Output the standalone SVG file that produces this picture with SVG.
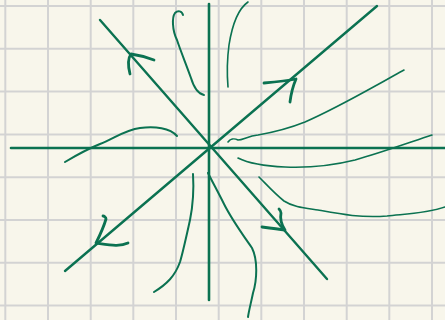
<svg xmlns="http://www.w3.org/2000/svg" width="445" height="320" viewBox="0 0 445 320">
<style>
.grid{stroke:#d3d3d3;stroke-width:2;fill:none}
.ink{stroke:#0b7251;fill:none;stroke-linecap:round;stroke-linejoin:round}
.axis{stroke-width:2.6}
.eig{stroke-width:2.4}
.traj{stroke-width:2}
.thin{stroke-width:1.6}
.arr{stroke-width:2.8}
</style>
<rect width="445" height="320" fill="#f8f6eb"/>
<g id="grid" class="grid">
<path d="M5.3,0V320M48,0V320M90.7,0V320M133.3,0V320M176,0V320M218.7,0V320M261.3,0V320M304,0V320M346.7,0V320M389.3,0V320M432,0V320"/>
<path d="M0,6H445M0,48.8H445M0,91.6H445M0,134.4H445M0,177.2H445M0,220H445M0,262.8H445M0,305.6H445"/>
</g>
<g id="axes" class="ink axis">
<path d="M11,148H445"/>
<path d="M209,4V300"/>
</g>
<g id="eigenlines" class="ink eig">
<path d="M100,20L327,279"/>
<path d="M65,271L377,6"/>
</g>
<g id="trajectories" class="ink traj">
<path d="M183,15C182,11 178,10 175,13C172,17 172,30 177,40C181,52 186,64 191,78C194,88 199,94 204,95"/>
<path class="thin" d="M248,2C238,9 232,26 229,45C227,60 227,75 228,87"/>
<path class="thin" d="M228,142C230,139 234,138 238,140C243,140 248,136 258,135C275,132 290,128 305,122C330,111 350,100 377,85C390,78 398,73 404,70"/>
<path class="thin" d="M238,158C248,163 262,166 285,167C310,168 335,165 355,160C380,153 405,144 432,135"/>
<path class="thin" d="M259,177C266,184 275,194 284,201C293,207 305,208 318,210C340,214 360,218 387,216C405,214 425,214 445,207"/>
<path d="M208,173C213,183 218,192 224,204C232,220 243,235 252,248C258,260 257,280 253,293C251,303 249,310 248,317"/>
<path d="M193,174C194,190 193,205 190,220C186,238 183,252 180,262C175,276 167,284 154,292"/>
<path d="M65,162C75,156 85,150 100,144C115,138 125,130 140,128C155,126 170,128 177,136"/>
</g>
<g id="arrows" class="ink arr">
<path d="M154,60C146,57 138,55 131,54C128,58 128,66 130,74"/>
<path d="M264,83C275,82 286,81 296,79C293,86 291,94 290,102"/>
<path d="M262,227C270,228 278,229 285,230C281,224 280,218 281,213C281,211 280,210 279,209"/>
<path d="M128,243C120,247 110,245 96,243C100,235 104,226 106,219C106,217 104,216 103,216"/>
</g>
</svg>
